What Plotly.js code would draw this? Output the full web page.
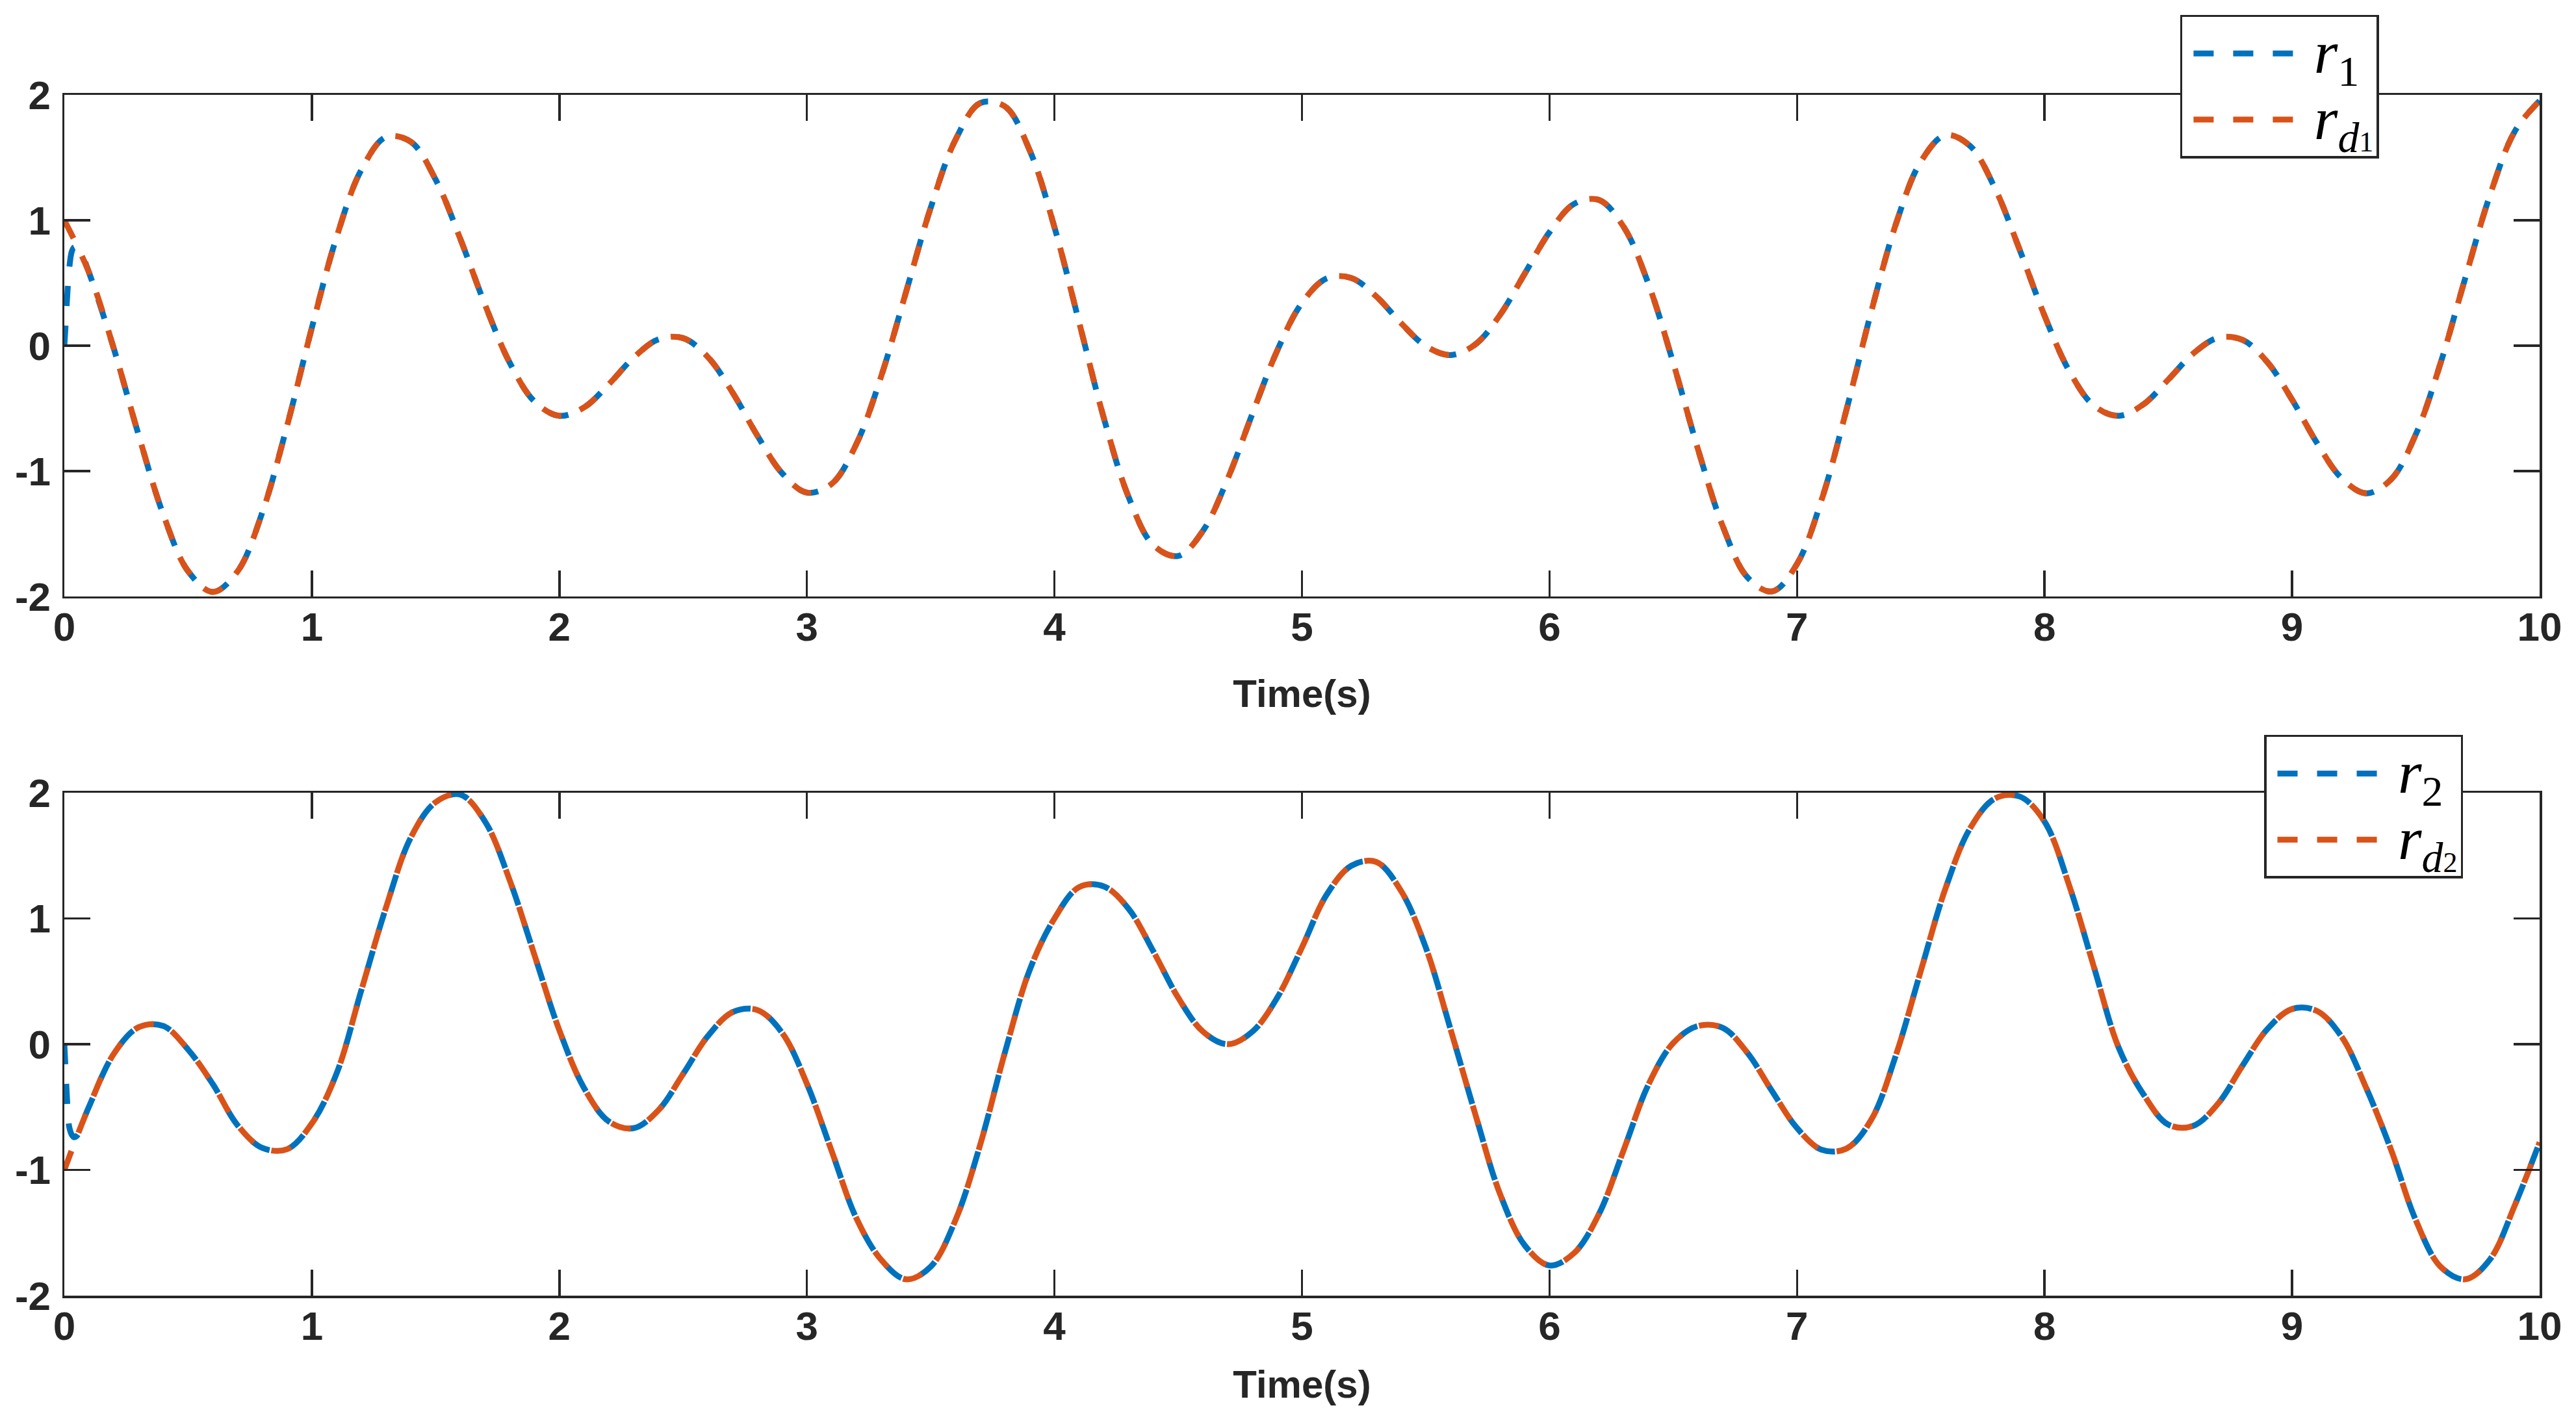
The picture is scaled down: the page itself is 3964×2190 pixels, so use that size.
<!DOCTYPE html>
<html>
<head>
<meta charset="utf-8">
<script src="https://cdn.plot.ly/plotly-3.0.1.min.js"></script>
<style>
html,body{margin:0;padding:0;background:#ffffff;}
#chart{width:3964px;height:2190px;}
</style>
</head>
<body>
<div id="chart"></div>
<script>
// ---- data ----
const time = [0,0.1,0.2,0.3,0.4,0.5,0.6,0.7,0.8,0.9,1,1.1,1.2,1.3,1.4,1.5,1.6,1.7,1.8,1.9,2,2.1,2.2,2.3,2.4,2.5,2.6,2.7,2.8,2.9,3,3.1,3.2,3.3,3.4,3.5,3.6,3.7,3.8,3.9,4,4.1,4.2,4.3,4.4,4.5,4.6,4.7,4.8,4.9,5,5.1,5.2,5.3,5.4,5.5,5.6,5.7,5.8,5.9,6,6.1,6.2,6.3,6.4,6.5,6.6,6.7,6.8,6.9,7,7.1,7.2,7.3,7.4,7.5,7.6,7.7,7.8,7.9,8,8.1,8.2,8.3,8.4,8.5,8.6,8.7,8.8,8.9,9,9.1,9.2,9.3,9.4,9.5,9.6,9.7,9.8,9.9,10];

const rd1 = [1.0000,0.5821,-0.0243,-0.7126,-1.3481,-1.7986,-1.9638,-1.7997,-1.3291,-0.6382,
0.1426,0.8664,1.4027,1.6644,1.6255,1.3241,0.8507,0.3238,-0.1383,-0.4465,
-0.5597,-0.4923,-0.3071,-0.0951,0.0502,0.0598,-0.0911,-0.3750,-0.7179,-1.0179,
-1.1718,-1.1030,-0.7834,-0.2448,0.4247,1.0991,1.6412,1.9341,1.9080,1.5578,
0.9447,0.1836,-0.5813,-1.2091,-1.5920,-1.6771,-1.4765,-1.0611,-0.5415,-0.0393,
0.3409,0.5365,0.5391,0.3930,0.1803,-0.0031,-0.0750,0.0094,0.2447,0.5743,
0.9053,1.1313,1.1617,0.9461,0.4909,-0.1378,-0.8270,-1.4401,-1.8483,-1.9596,
-1.7404,-1.2252,-0.5093,0.2721,0.9727,1.4675,1.6787,1.5910,1.2535,0.7623,
0.2387,-0.2027,-0.4795,-0.5597,-0.4671,-0.2708,-0.0639,0.0624,0.0455,-0.1310,
-0.4311,-0.7742,-1.0565,-1.1772,-1.0665,-0.7063,-0.1383,0.5416,1.2030,1.7104,
1.9530];

const rd2 = [-1.00,-0.495,-0.076,0.135,0.145,-0.043,-0.318,-0.645,-0.825,-0.835,
-0.63,-0.232,0.43,1.09,1.645,1.925,1.985,1.77,1.30,0.705,
0.11,-0.35,-0.615,-0.668,-0.525,-0.236,0.065,0.255,0.272,0.09,
-0.315,-0.85,-1.385,-1.715,-1.87,-1.77,-1.40,-0.80,-0.065,0.59,
1.0,1.25,1.255,1.076,0.737,0.37,0.10,0.0,0.10,0.37,
0.77,1.19,1.42,1.45,1.22,0.77,0.12,-0.555,-1.19,-1.60,
-1.76,-1.66,-1.35,-0.84,-0.32,0.01,0.145,0.13,-0.07,-0.376,
-0.667,-0.84,-0.83,-0.60,-0.084,0.583,1.24,1.72,1.955,1.97,
1.77,1.26,0.61,-0.03,-0.40,-0.64,-0.65,-0.475,-0.17,0.12,
0.28,0.265,0.06,-0.35,-0.84,-1.40,-1.77,-1.87,-1.71,-1.28,
-0.78];

// start-up transient of the tracked signals (before they join the references)
const tStart  = [0, 0.005, 0.01, 0.015, 0.02, 0.03, 0.04, 0.05, 0.06, 0.07];
const r1Start = [0, 0.16, 0.34, 0.50, 0.62, 0.75, 0.785, 0.78, 0.76, 0.73];
const r2Start = [0, -0.20, -0.40, -0.57, -0.66, -0.72, -0.74, -0.73, -0.70, -0.64];

const xTickVals = [0,1,2,3,4,5,6,7,8,9,10];
const xTickText = ['0','1','2','3','4','5','6','7','8','9','10'];
const yTickVals = [-2,-1,0,1,2];
const yTickText = ['-2','-1','0','1','2'];
const xTitleText = 'Time(s)';
const GAP = '\u2004';
const BIG = '<span style="font-family:\'Liberation Serif\',\'Times New Roman\',serif;font-size:94px">';
const SMALL = '<span style="font-size:44px">';
const nameR1  = GAP + BIG + '<i>r</i><sub>1</sub></span>';
const nameRd1 = GAP + BIG + '<i>r</i><sub><i>d</i>' + SMALL + '1</span></sub></span>';
const nameR2  = GAP + BIG + '<i>r</i><sub>2</sub></span>';
const nameRd2 = GAP + BIG + '<i>r</i><sub><i>d</i>' + SMALL + '2</span></sub></span>';

// ---- build series ----
const r1Time = tStart.concat(time.slice(1));
const r1 = r1Start.concat(rd1.slice(1));
const r2Time = tStart.concat(time.slice(1));
const r2 = r2Start.concat(rd2.slice(1));

const BLUE = '#0072BD', ORANGE = '#D95319', AX = '#262626';
const DASH = '31px,30px';
const LW = 9;

function line(color){ return {color: color, width: LW, dash: DASH, shape: 'spline', smoothing: 1}; }

const traces = [
  {x: r1Time, y: r1, type: 'scatter', mode: 'lines', name: nameR1, line: line(BLUE), xaxis: 'x', yaxis: 'y', legend: 'legend'},
  {x: time, y: rd1, type: 'scatter', mode: 'lines', name: nameRd1, line: line(ORANGE), xaxis: 'x', yaxis: 'y', legend: 'legend'},
  {x: r2Time, y: r2, type: 'scatter', mode: 'lines', name: nameR2, line: line(BLUE), xaxis: 'x2', yaxis: 'y2', legend: 'legend2'},
  {x: time, y: rd2, type: 'scatter', mode: 'lines', name: nameRd2, line: line(ORANGE), xaxis: 'x2', yaxis: 'y2', legend: 'legend2'}
];

const tickFont = {family: 'Liberation Sans, Arial, Helvetica, sans-serif', size: 62, color: AX, weight: 'bold'};
const titleFont = {family: 'Liberation Sans, Arial, Helvetica, sans-serif', size: 60, color: AX, weight: 'bold'};

function xAxis(anchor, titleStandoff){
  return {
    anchor: anchor, domain: [0, 1], range: [0, 10],
    tickmode: 'array', tickvals: xTickVals, ticktext: xTickText,
    ticks: 'inside', ticklen: 40, tickwidth: 3.5, tickcolor: AX,
    showline: true, linewidth: 3.5, linecolor: AX, mirror: 'ticks',
    showgrid: false, zeroline: false, tickfont: tickFont, ticklabelstandoff: -10,
    title: {text: xTitleText, font: titleFont, standoff: titleStandoff},
    fixedrange: true
  };
}
function yAxis(anchor, domain){
  return {
    anchor: anchor, domain: domain, range: [-2, 2],
    tickmode: 'array', tickvals: yTickVals, ticktext: yTickText,
    ticks: 'inside', ticklen: 40, tickwidth: 3.5, tickcolor: AX,
    showline: true, linewidth: 3.5, linecolor: AX, mirror: 'ticks',
    showgrid: false, zeroline: false, tickfont: tickFont, ticklabelstandoff: 5,
    fixedrange: true
  };
}

const legendFont = {family: 'Liberation Serif, Times New Roman, serif', size: 76, color: '#000000'};
function legendBox(x, y){
  return {x: x, y: y, xanchor: 'left', yanchor: 'top', xref: 'paper', yref: 'paper',
    bgcolor: '#ffffff', bordercolor: AX, borderwidth: 3.5, font: legendFont,
    itemwidth: 155, indentation: 12, tracegroupgap: 0, itemclick: false, itemdoubleclick: false};
}

const layout = {
  width: 3964, height: 2190,
  paper_bgcolor: '#ffffff', plot_bgcolor: '#ffffff',
  margin: {l: 99, r: 56, t: 146, b: 196, autoexpand: false},
  showlegend: true,
  xaxis: xAxis('y', 49),
  yaxis: yAxis('x', [0.5823, 1]),
  xaxis2: xAxis('y2', 36),
  yaxis2: yAxis('x2', [0, 0.4188]),
  legend: legendBox(0.8548, 1.0666),
  legend2: legendBox(0.8887, 0.467)
};

Plotly.newPlot('chart', traces, layout, {staticPlot: true, displayModeBar: false});
</script>
</body>
</html>
